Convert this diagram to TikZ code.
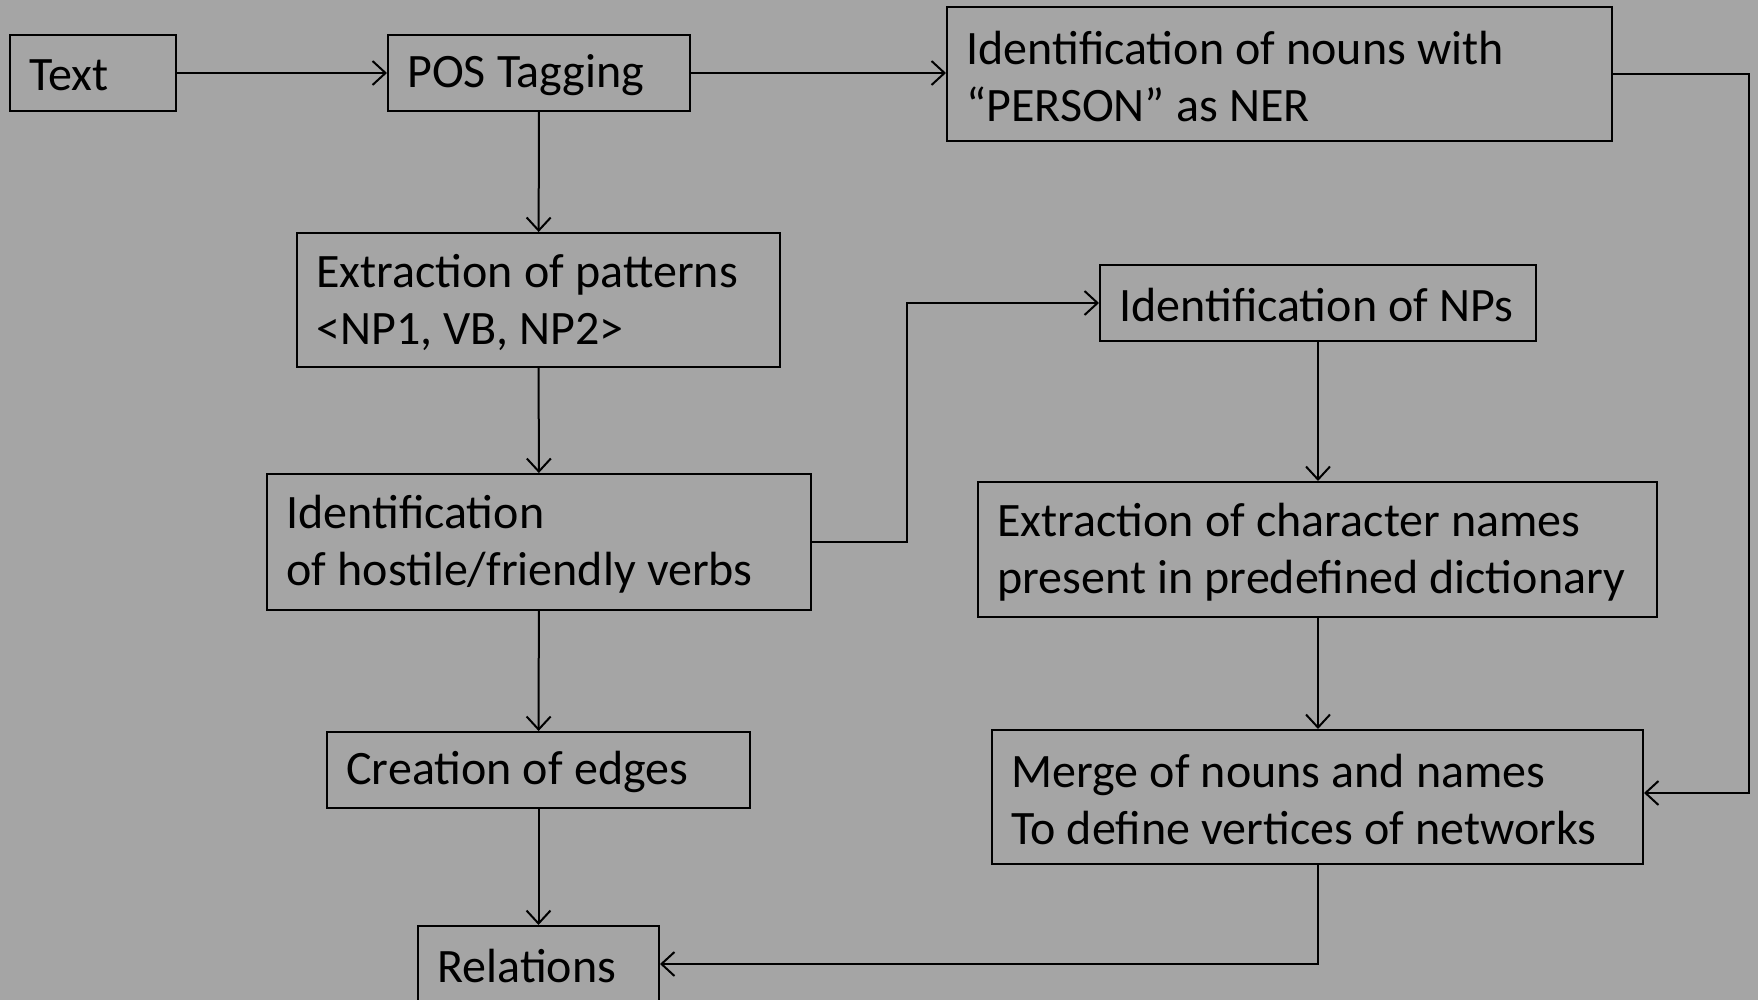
\documentclass[tikz,border=0pt]{standalone}
\usepackage{fontspec}
\setmainfont{Carlito}
\usetikzlibrary{arrows.meta}
\definecolor{bg}{HTML}{A5A5A5}
\begin{document}
\begin{tikzpicture}[x=0.5pt,y=-0.5pt,
  box/.style={draw=black,line width=1pt,rectangle,inner sep=0pt},
  lbl/.style={inner xsep=10pt,inner ysep=0pt,anchor=west,align=left,yshift=-1.2pt,
    font=\fontsize{24}{28.5}\selectfont,execute at begin node={\spaceskip=5.6pt\relax}},
  conn/.style={draw=black,line width=1pt,-{Straight Barb[length=6.5pt,width=12pt,line width=1pt]}}]
\fill[bg] (0,0) rectangle (1758,1000);
\useasboundingbox (0,0) rectangle (1758,1000);
\newcommand{\bx}[6]{\node[box,minimum width=#4*0.5pt,minimum height=#5*0.5pt] (#1) at (#2,#3) {};
  \node[lbl] (#1-t) at (#1.west) {#6};}
\bx{T}{93}{73}{166}{76}{Text}
\bx{POS}{539}{73}{302}{76}{POS Tagging}
\bx{NOUN}{1279.5}{74}{665}{134}{Identification of nouns with\\“PERSON” as NER}
\bx{PAT}{538.5}{300}{483}{134}{Extraction of patterns\\<NP1, VB, NP2>}
\bx{NPS}{1318}{303}{436}{76}{Identification of NPs}
\bx{HOST}{539}{542}{544}{136}{Identification\\of hostile/friendly verbs}
\bx{CHAR}{1317.5}{549.5}{679}{135}{Extraction of character names\\present in predefined dictionary}
\bx{EDGE}{538.5}{770}{423}{76}{Creation of edges}
\bx{MERGE}{1317.5}{797}{651}{134}{Merge of nouns and names\\To define vertices of networks}
\bx{REL}{538.5}{964}{241}{76}{Relations}
\coordinate (c1) at (907,542);
\coordinate (c2) at (907,303);
\coordinate (c3) at (1749,74);
\coordinate (c4) at (1749,793);
\coordinate (c5) at (1318,964);
\draw[conn] (T) -- (POS);
\draw[conn] (POS) -- (NOUN.west |- POS);
\draw[conn] (POS) -- (PAT);
\draw[conn] (PAT) -- (HOST);
\draw[conn] (HOST.east) -- (c1) -- (c2) -- (NPS.west);
\draw[conn] (NPS.south -| NPS) -- (CHAR.north -| NPS);
\draw[conn] (CHAR.south -| NPS) -- (MERGE.north -| NPS);
\draw[conn] (NOUN.east |- c3) -- (c3) -- (c4) -- (MERGE.east |- c4);
\draw[conn] (HOST) -- (EDGE);
\draw[conn] (EDGE) -- (REL);
\draw[conn] (MERGE.south -| c5) -- (c5) -- (REL.east);
\end{tikzpicture}
\end{document}
